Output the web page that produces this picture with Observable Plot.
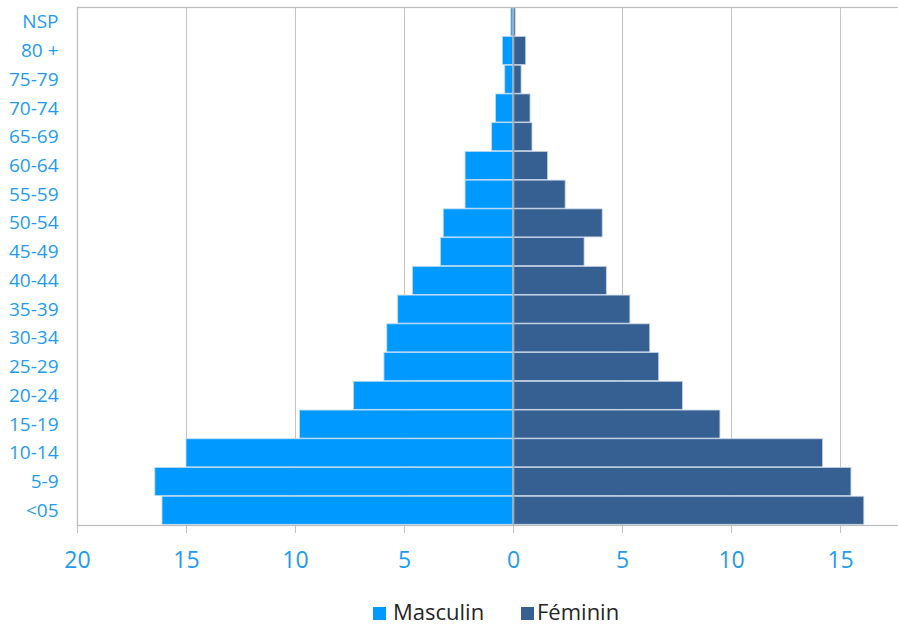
<!DOCTYPE html>
<html>
<head>
<meta charset="utf-8">
<script src="https://cdn.jsdelivr.net/npm/d3@7"></script>
<script src="https://cdn.jsdelivr.net/npm/@observablehq/plot@0.6"></script>
<style>
  html, body { margin: 0; padding: 0; background: #fff; }
  #wrap { position: relative; width: 898px; height: 626px; overflow: hidden; font-family: "Open Sans", sans-serif; }
  #wrap svg { overflow: hidden; }
  .yax text { fill: #1e9bf0; }
  .xax text { fill: #1e9bf0; }
  .xax path, .xax line { stroke: #bfbfbf; }
  .leg { position: absolute; font-size: 22px; line-height: 22px; color: #262626; white-space: nowrap; }
  .sq { position: absolute; width: 13px; height: 13px; }
</style>
</head>
<body>
<div id="wrap"></div>
<script>
const ages = ["NSP","80 +","75-79","70-74","65-69","60-64","55-59","50-54","45-49","40-44","35-39","30-34","25-29","20-24","15-19","10-14","5-9","<05"];
const masculin = [0.1,0.49,0.38,0.8,0.98,2.2,2.2,3.2,3.33,4.61,5.29,5.79,5.92,7.32,9.79,15.0,16.43,16.1];
const feminin  = [0.1,0.58,0.37,0.78,0.87,1.58,2.39,4.09,3.26,4.28,5.36,6.27,6.68,7.77,9.49,14.2,15.5,16.09];
const xTicks = [-20,-15,-10,-5,0,5,10,15];
const gridTicks = [-15,-10,-5,5,10,15];
const colMasc = "#0099ff";
const colFem = "#366092";

const male = ages.map((a,i)=>({age:a, v:-masculin[i]}));
const female = ages.map((a,i)=>({age:a, v:feminin[i]}));

const chart = Plot.plot({
  width: 898,
  height: 585,
  marginLeft: 77,
  marginRight: -2,
  marginTop: 7,
  marginBottom: 60,
  style: {fontFamily: "'Open Sans', sans-serif", background: "#fff"},
  x: {domain: [-20, 17.75]},
  y: {domain: ages, padding: 0.025, round: false},
  marks: [
    Plot.ruleX(gridTicks, {stroke: "#c4c4c4", strokeWidth: 1}),
    Plot.barX(male, {x1: 0, x2: "v", y: "age", fill: colMasc, stroke: "#bcd9f2", strokeWidth: 0.8}),
    Plot.barX(female, {x1: 0, x2: "v", y: "age", fill: colFem, stroke: "#c4d2e4", strokeWidth: 0.8}),
    Plot.ruleX([0], {stroke: "#a8a8a8", strokeWidth: 1.6}),
    Plot.frame({stroke: "#bfbfbf", strokeWidth: 1.3}),
    Plot.axisY({tickSize: 0, tickPadding: 19, fontSize: 19, label: null, className: "yax"}),
    Plot.axisX(xTicks, {tickSize: 8, tickPadding: 18, fontSize: 23, tickFormat: d => Math.abs(d), label: null, className: "xax", stroke: "#bfbfbf"})
  ]
});
const wrap = document.getElementById("wrap");
wrap.appendChild(chart);

const legendItems = [
  {label: "Masculin", color: colMasc, sq: 373, tx: 393},
  {label: "Féminin", color: colFem, sq: 521, tx: 537}
];
for (const it of legendItems) {
  const s = document.createElement("div");
  s.className = "sq";
  s.style.left = it.sq + "px";
  s.style.top = "607px";
  s.style.background = it.color;
  wrap.appendChild(s);
  const t = document.createElement("div");
  t.className = "leg";
  t.style.left = it.tx + "px";
  t.style.top = "600px";
  t.textContent = it.label;
  wrap.appendChild(t);
}
</script>
</body>
</html>
